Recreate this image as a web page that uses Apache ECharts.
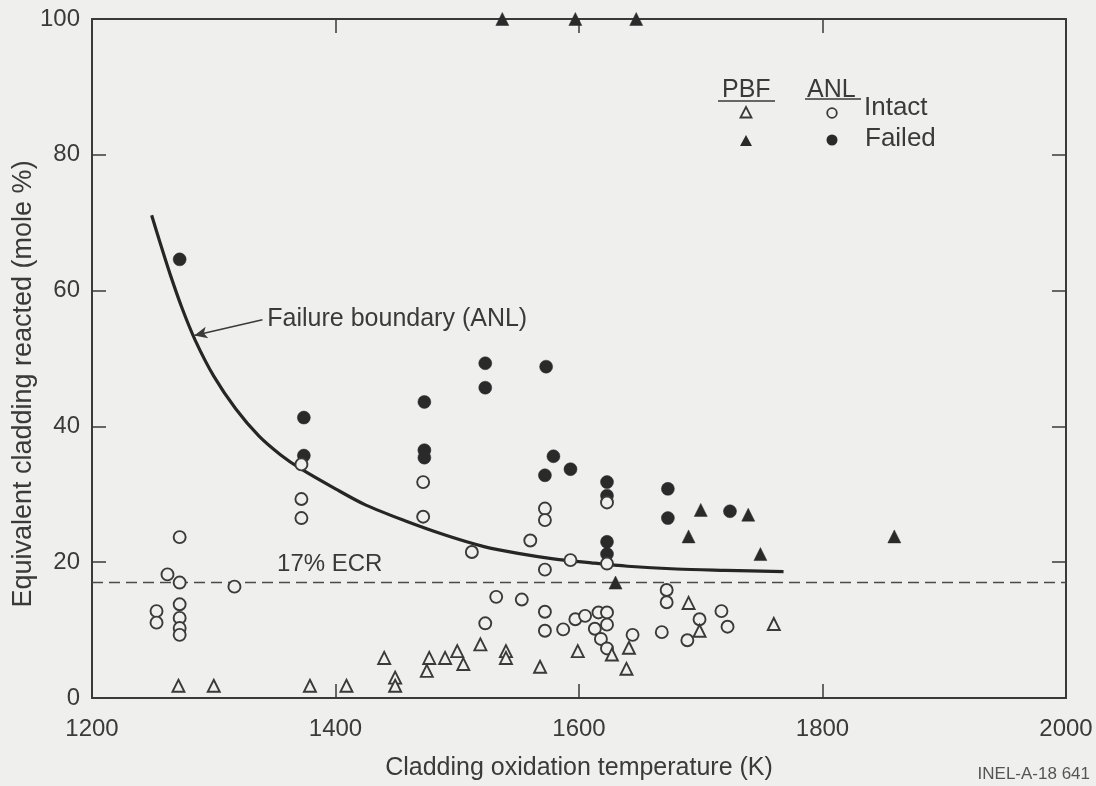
<!DOCTYPE html>
<html>
<head>
<meta charset="utf-8">
<script src="https://cdn.jsdelivr.net/npm/echarts@6/dist/echarts.min.js"></script>
<style>
  html, body { margin: 0; padding: 0; background: #efefed; }
  #chart { width: 1096px; height: 786px; }
</style>
</head>
<body>
<div id="chart"></div>
<script>
// PBF rod tests: [cladding oxidation temperature (K), equivalent cladding reacted (mole %)]
const pbfIntact = [
  [1271, 1.8], [1300, 1.8], [1379, 1.8], [1409, 1.8], [1440, 5.9], [1449, 3.0],
  [1449, 1.8], [1477, 5.9], [1475, 4.0], [1490, 5.9], [1500, 6.9], [1505, 5.0],
  [1519, 7.9], [1540, 6.9], [1540, 5.9], [1568, 4.6], [1599, 6.9], [1627, 6.4],
  [1641, 7.4], [1639, 4.3], [1690, 14.0], [1699, 9.9], [1760, 10.9]
];
const pbfFailed = [
  [1537, 100], [1597, 100], [1647, 100], [1630, 17.0], [1690, 23.8],
  [1700, 27.7], [1739, 27.0], [1749, 21.2], [1859, 23.8]
];

// ANL specimen tests
const anlIntact = [
  [1253, 12.8], [1253, 11.1], [1262, 18.2],
  [1272, 23.7], [1272, 17.0], [1272, 13.8], [1272, 11.8], [1272, 10.3], [1272, 9.3],
  [1317, 16.4],
  [1372, 34.4], [1372, 29.3], [1372, 26.5],
  [1472, 31.8], [1472, 26.7],
  [1512, 21.5], [1523, 11.0], [1532, 14.9], [1553, 14.5], [1560, 23.2],
  [1572, 27.9], [1572, 26.2], [1572, 18.9], [1572, 12.7], [1572, 9.9],
  [1587, 10.1], [1593, 20.3], [1597, 11.6], [1605, 12.1], [1613, 10.2],
  [1616, 12.6], [1618, 8.7],
  [1623, 28.8], [1623, 19.8], [1623, 12.6], [1623, 10.8], [1623, 7.3],
  [1644, 9.3], [1668, 9.7], [1672, 15.9], [1672, 14.1], [1689, 8.5],
  [1699, 11.6], [1717, 12.8], [1722, 10.5]
];
const anlFailed = [
  [1272, 64.6], [1374, 41.3], [1374, 35.7],
  [1473, 43.6], [1473, 36.5], [1473, 35.4],
  [1523, 49.3], [1523, 45.7], [1573, 48.8], [1579, 35.6], [1572, 32.8],
  [1593, 33.7], [1623, 31.8], [1623, 29.8], [1623, 23.0], [1623, 21.2],
  [1673, 30.8], [1673, 26.5], [1724, 27.5]
];

// ANL failure boundary
const boundaryTemp = [1249, 1256, 1264, 1274, 1285, 1300, 1318, 1337, 1355, 1372, 1400,
  1425, 1457, 1490, 1522, 1550, 1579, 1610, 1640, 1680, 1720, 1768];
const boundaryEcr = [71.1, 67.0, 62.5, 57.4, 52.6, 47.4, 42.6, 38.6, 35.8, 33.7, 30.8,
  28.4, 26.1, 24.0, 22.3, 21.3, 20.5, 19.9, 19.4, 19.0, 18.8, 18.6];

// 17% ECR criterion
const ecrLimit = 17;

// axis ranges and ticks
const tempRange = [1200, 2000];
const tempStep = 200;
const ecrRange = [0, 100];
const ecrStep = 20;

// axis titles
const xTitle = 'Cladding oxidation temperature (K)';
const yTitle = 'Equivalent cladding reacted (mole %)';

// annotation anchors (data space)
const boundaryNote = { text: 'Failure boundary (ANL)', at: [1344, 55.8], arrowFrom: [1340, 55.7], arrowTo: [1284, 53.4] };
const ecrNote = { text: '17% ECR', at: [1352, 19.7] };

const FONT = "'Liberation Sans', Arial, Helvetica, sans-serif";
const INK = '#3a3a3a';
const PAPER = '#efefed';

const chart = echarts.init(document.getElementById('chart'), null, { renderer: 'canvas' });

const frameAxis = (extra) => Object.assign({
  type: 'value',
  axisLine: { show: true, onZero: false, lineStyle: { color: INK, width: 2 } },
  axisTick: { show: true, inside: true, length: 14, lineStyle: { color: INK, width: 1.5 } },
  splitLine: { show: false },
}, extra);

const plain = (v) => String(v);
const boundaryData = boundaryTemp.map((t, i) => [t, boundaryEcr[i]]);

function markers(name, data, symbol, filled, size) {
  return {
    name, type: 'scatter', data, symbol, symbolSize: size, clip: false, z: 4,
    itemStyle: filled
      ? { color: '#2a2a2a', borderColor: '#2a2a2a', borderWidth: 0.5, opacity: 1 }
      : { color: PAPER, borderColor: INK, borderWidth: 1.9, opacity: 1 },
    emphasis: { disabled: true }
  };
}

chart.setOption({
  backgroundColor: PAPER,
  animation: false,
  textStyle: { fontFamily: FONT, color: INK },
  grid: { left: 92, right: 30, top: 19, bottom: 72, containLabel: false },
  xAxis: [
    frameAxis({
      min: tempRange[0], max: tempRange[1], interval: tempStep, position: 'bottom',
      axisLabel: { show: true, fontSize: 24, color: INK, margin: 19, fontFamily: FONT,
                   formatter: plain, showMinLabel: true, showMaxLabel: true },
      name: xTitle, nameLocation: 'middle', nameGap: 58,
      nameTextStyle: { fontSize: 25, color: INK, fontFamily: FONT }
    }),
    frameAxis({
      min: tempRange[0], max: tempRange[1], interval: tempStep, position: 'top',
      axisLabel: { show: false }
    })
  ],
  yAxis: [
    frameAxis({
      min: ecrRange[0], max: ecrRange[1], interval: ecrStep, position: 'left',
      axisLabel: { show: true, fontSize: 24, color: INK, margin: 12, fontFamily: FONT, formatter: plain }
    }),
    frameAxis({
      min: ecrRange[0], max: ecrRange[1], interval: ecrStep, position: 'right',
      axisLabel: { show: false }
    })
  ],
  series: [
    {
      name: '17% ECR', type: 'line', z: 2, symbol: 'none', silent: true,
      data: [[tempRange[0], ecrLimit], [tempRange[1], ecrLimit]],
      lineStyle: { color: '#4a4a4a', width: 1.6, type: [11, 6] },
      markPoint: {
        symbol: 'circle', symbolSize: 0, silent: true,
        label: { show: true, position: 'right', distance: 0, fontSize: 24, color: INK,
                 fontFamily: FONT, formatter: ecrNote.text },
        data: [{ coord: ecrNote.at }]
      }
    },
    {
      name: 'Failure boundary (ANL)', type: 'line', z: 3, symbol: 'none', silent: true,
      smooth: 0.3, data: boundaryData,
      lineStyle: { color: '#262626', width: 3.2 },
      markPoint: {
        symbol: 'circle', symbolSize: 0, silent: true,
        label: { show: true, position: 'right', distance: 0, fontSize: 25, color: INK,
                 fontFamily: FONT, formatter: boundaryNote.text },
        data: [{ coord: boundaryNote.at }]
      },
      markLine: {
        silent: true, symbol: ['none', 'arrow'], symbolSize: [9, 13],
        lineStyle: { color: INK, width: 1.6, type: 'solid' },
        label: { show: false },
        data: [[{ coord: boundaryNote.arrowFrom }, { coord: boundaryNote.arrowTo }]]
      }
    },
    markers('ANL failed', anlFailed, 'circle', true, 13),
    markers('ANL intact', anlIntact, 'circle', false, 12),
    markers('PBF intact', pbfIntact, 'triangle', false, 12),
    markers('PBF failed', pbfFailed, 'triangle', true, 13)
  ],
  graphic: [
    // vertical axis title, reading bottom to top
    { type: 'text', x: 24, y: 384, rotation: Math.PI / 2,
      style: { text: yTitle, font: `27px ${FONT}`, fill: INK, align: 'center', verticalAlign: 'middle' } },
    // key: column headings with rules, then one row per outcome
    { type: 'text', left: 722, top: 78, style: { text: 'PBF', font: `25px ${FONT}`, fill: INK } },
    { type: 'line', shape: { x1: 718, y1: 101, x2: 775, y2: 101 }, style: { stroke: INK, lineWidth: 1.5 } },
    { type: 'text', left: 807, top: 78, style: { text: 'ANL', font: `25px ${FONT}`, fill: INK } },
    { type: 'line', shape: { x1: 805, y1: 99, x2: 861, y2: 99 }, style: { stroke: INK, lineWidth: 1.5 } },
    { type: 'polygon', shape: { points: [[746, 107], [751.5, 117.5], [740.5, 117.5]] },
      style: { fill: PAPER, stroke: INK, lineWidth: 1.8 } },
    { type: 'circle', shape: { cx: 832, cy: 113, r: 4.8 }, style: { fill: PAPER, stroke: INK, lineWidth: 1.8 } },
    { type: 'text', left: 864, top: 95, style: { text: 'Intact', font: `26px ${FONT}`, fill: INK } },
    { type: 'polygon', shape: { points: [[746, 135], [752, 146], [740, 146]] },
      style: { fill: '#2a2a2a' } },
    { type: 'circle', shape: { cx: 832, cy: 140, r: 5.5 }, style: { fill: '#2a2a2a' } },
    { type: 'text', left: 865, top: 126, style: { text: 'Failed', font: `26px ${FONT}`, fill: INK } },
    // figure number
    { type: 'text', right: 6, top: 766, style: { text: 'INEL-A-18 641', font: `17px ${FONT}`, fill: '#555' } }
  ]
});
</script>
</body>
</html>
